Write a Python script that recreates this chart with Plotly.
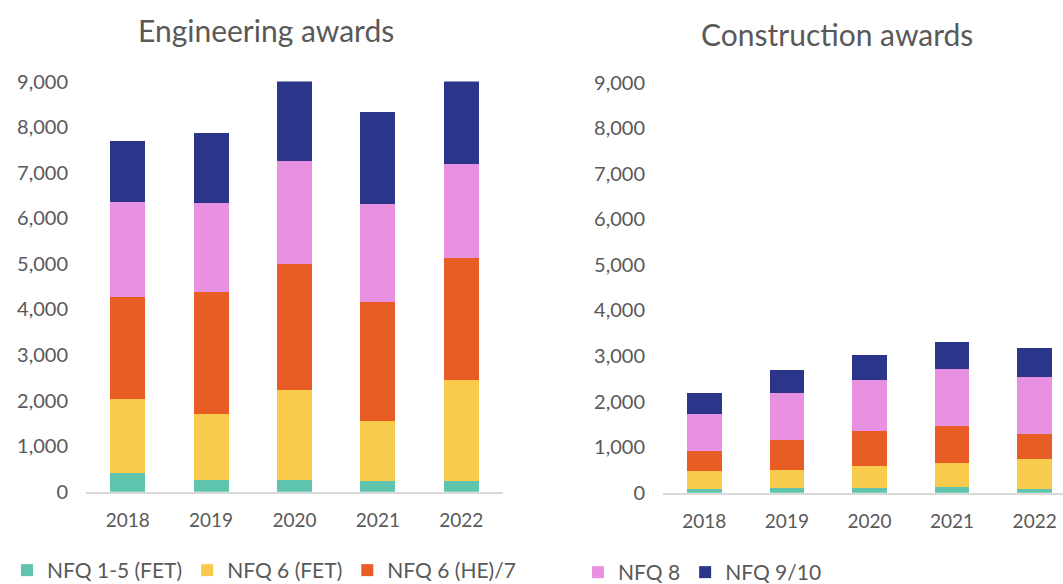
import plotly.graph_objects as go

years = ["2018", "2019", "2020", "2021", "2022"]
series_names = ["NFQ 1-5 (FET)", "NFQ 6 (FET)", "NFQ 6 (HE)/7", "NFQ 8", "NFQ 9/10"]
colors = ["#5FC4AD", "#F9CB4C", "#E85D25", "#E891E0", "#2B3589"]

# Engineering awards (stacked segments)
eng_nfq1_5 = [410, 263, 263, 240, 240]
eng_nfq6_fet = [1630, 1447, 1967, 1310, 2210]
eng_nfq6_he7 = [2236, 2670, 2770, 2610, 2680]
eng_nfq8 = [2077, 1960, 2260, 2150, 2070]
eng_nfq9_10 = [1337, 1530, 1760, 2010, 1860]

# Construction awards (stacked segments)
con_nfq1_5 = [90, 100, 106, 121, 84]
con_nfq6_fet = [380, 395, 484, 534, 652]
con_nfq6_he7 = [440, 665, 762, 814, 564]
con_nfq8 = [810, 1025, 1121, 1253, 1246]
con_nfq9_10 = [480, 505, 556, 586, 630]

y_ticks = [0, 1000, 2000, 3000, 4000, 5000, 6000, 7000, 8000, 9000]

eng = [eng_nfq1_5, eng_nfq6_fet, eng_nfq6_he7, eng_nfq8, eng_nfq9_10]
con = [con_nfq1_5, con_nfq6_fet, con_nfq6_he7, con_nfq8, con_nfq9_10]

FONT = "Lato"
GREY = "#595959"
W, H = 1063, 584

fig = go.Figure()
for i, (name, vals) in enumerate(zip(series_names, eng)):
    fig.add_trace(go.Bar(
        x=years, y=vals, name=name, marker=dict(color=colors[i], line=dict(width=0)),
        width=0.42, xaxis="x", yaxis="y",
        showlegend=(i < 3), legend="legend",
    ))
for i, (name, vals) in enumerate(zip(series_names, con)):
    fig.add_trace(go.Bar(
        x=years, y=vals, name=name, marker=dict(color=colors[i], line=dict(width=0)),
        width=0.42, xaxis="x2", yaxis="y2",
        showlegend=(i >= 3), legend="legend2",
    ))

def px_x(p):
    return p / W

def px_y(p):
    return 1 - p / H

yaxis_common = dict(
    range=[0, 9000], tickvals=y_ticks, tickformat=",d",
    showgrid=False, zeroline=False, showline=False,
    tickfont=dict(family=FONT, size=20, color=GREY),
    ticklabelstandoff=17, fixedrange=True,
)
xaxis_common = dict(
    type="category", showgrid=False, zeroline=False,
    showline=True, linecolor="#D9D9D9", linewidth=2,
    tickfont=dict(family=FONT, size=19, color=GREY),
    ticks="", ticklabelstandoff=10,
)

fig.update_layout(
    width=W, height=H,
    margin=dict(l=0, r=0, t=0, b=0, autoexpand=False),
    paper_bgcolor="white", plot_bgcolor="white",
    barmode="stack", bargap=0.58,
    xaxis=dict(domain=[px_x(86), px_x(503)], range=[-0.5, 4.5], anchor="y", **xaxis_common),
    yaxis=dict(domain=[px_y(491.7), px_y(81.5)], anchor="x", **yaxis_common),
    xaxis2=dict(domain=[px_x(663), 1.0], range=[-0.5, 4.343], anchor="y2", **xaxis_common),
    yaxis2=dict(domain=[px_y(492.8), px_y(82.5)], anchor="x2", **yaxis_common),
    legend=dict(
        orientation="h", x=px_x(7), xanchor="left", y=px_y(550), yanchor="top",
        font=dict(family=FONT, size=21, color=GREY), bgcolor="rgba(0,0,0,0)",
        traceorder="normal", itemwidth=30,
    ),
    legend2=dict(
        orientation="h", x=px_x(578), xanchor="left", y=px_y(552), yanchor="top",
        font=dict(family=FONT, size=21, color=GREY), bgcolor="rgba(0,0,0,0)",
        traceorder="normal", itemwidth=30,
    ),
    annotations=[
        dict(text="Engineering awards", x=px_x(266), y=px_y(30), xref="paper", yref="paper",
             xanchor="center", yanchor="middle", showarrow=False,
             font=dict(family=FONT, size=30, color=GREY)),
        dict(text="Construction awards", x=px_x(837), y=px_y(34), xref="paper", yref="paper",
             xanchor="center", yanchor="middle", showarrow=False,
             font=dict(family=FONT, size=30, color=GREY)),
    ],
)

fig.write_html("out.html", config={"displayModeBar": False},
               post_script="document.body.style.margin='0';")
